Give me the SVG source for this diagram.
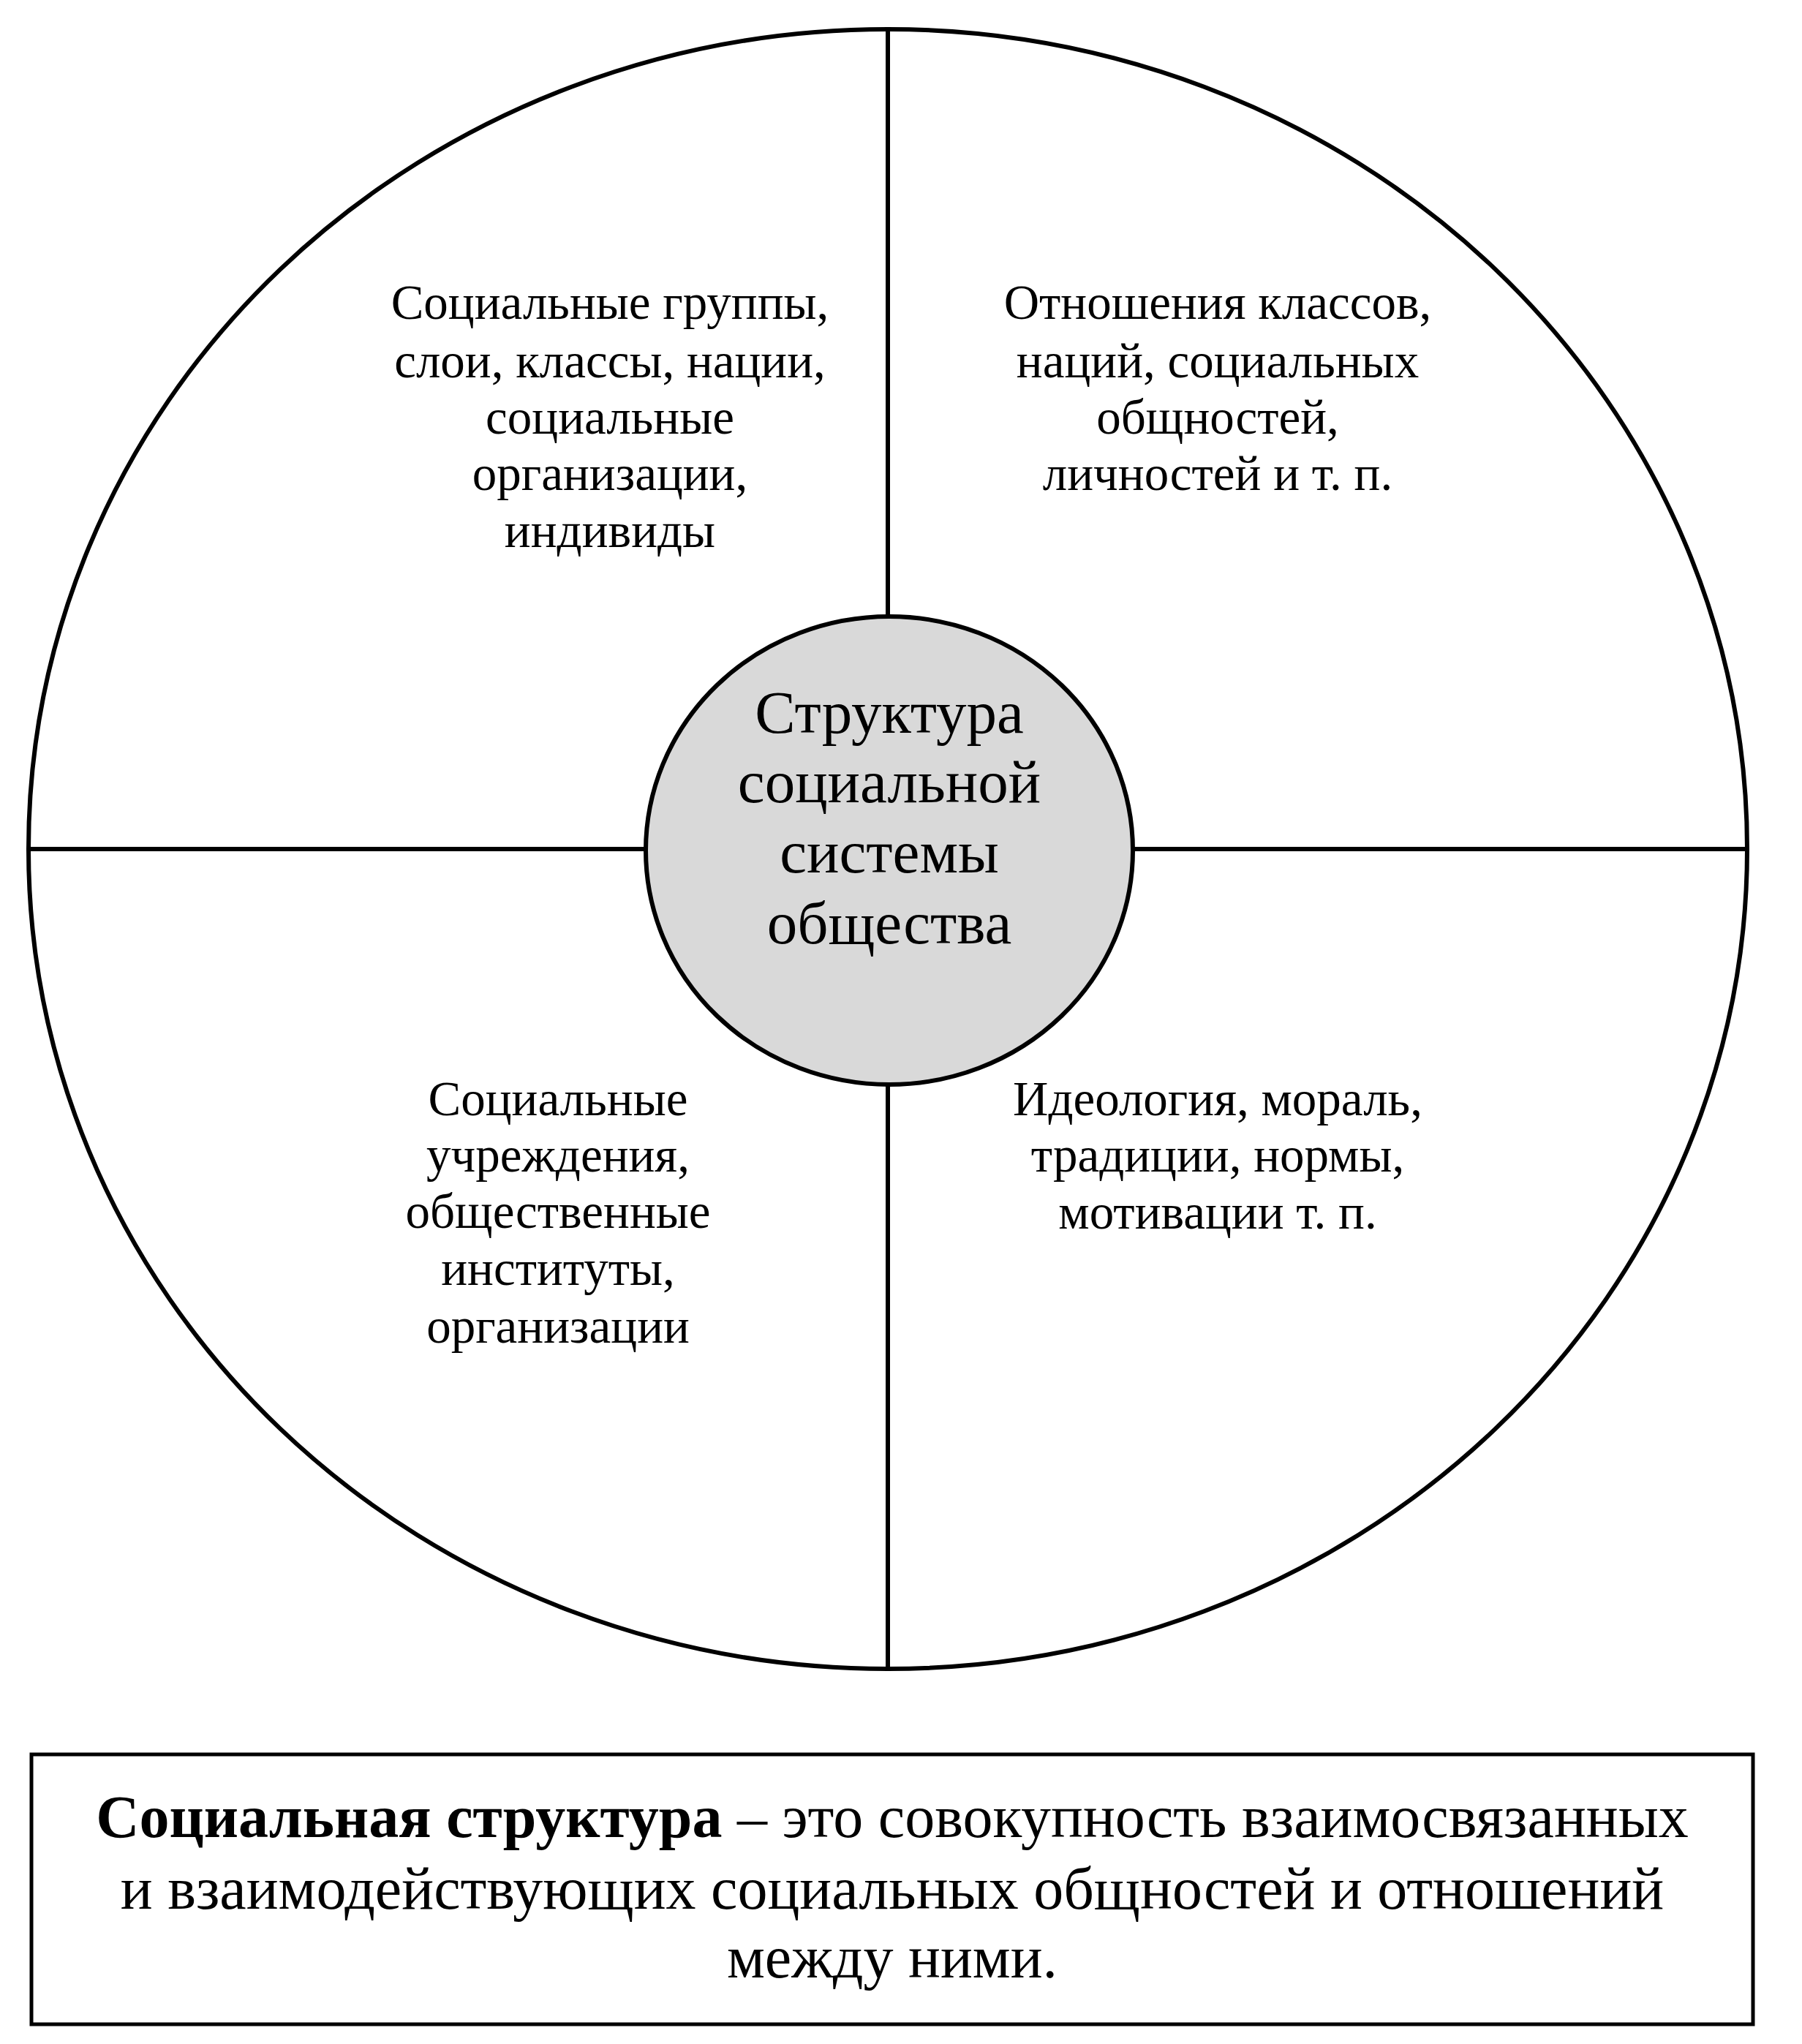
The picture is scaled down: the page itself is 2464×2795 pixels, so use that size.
<svg xmlns="http://www.w3.org/2000/svg" width="2464" height="2795" viewBox="0 0 2464 2795">
<style>
.ln{stroke:#000;stroke-width:6;fill:none}
.t{font-family:"Liberation Serif",serif;font-size:67px;text-anchor:middle;fill:#000}
.c{font-family:"Liberation Serif",serif;font-size:83px;text-anchor:middle;fill:#000}
.b{font-family:"Liberation Serif",serif;font-size:82px;text-anchor:middle;fill:#000}
</style>
<rect width="2464" height="2795" fill="#fff"/>
<g id="outer"><ellipse class="ln" cx="1214" cy="1161" rx="1175" ry="1121"/></g>
<g id="connectors">
<line class="ln" x1="1214" y1="40" x2="1214" y2="843"/>
<line class="ln" x1="1214" y1="1483" x2="1214" y2="2282"/>
<line class="ln" x1="39" y1="1161" x2="883" y2="1161"/>
<line class="ln" x1="1549" y1="1161" x2="2389" y2="1161"/>
</g>
<g id="center">
<ellipse cx="1216" cy="1163" rx="333" ry="320" fill="#d9d9d9" stroke="#000" stroke-width="6"/>
<text class="c" x="1216" y="1002">Структура</text>
<text class="c" x="1216" y="1097">социальной</text>
<text class="c" x="1216" y="1193">системы</text>
<text class="c" x="1216" y="1290">общества</text>
</g>
<g id="tl"><text class="t" x="834" y="436">Социальные группы,</text><text class="t" x="834" y="516">слои, классы, нации,</text><text class="t" x="834" y="593">социальные</text><text class="t" x="834" y="670">организации,</text><text class="t" x="834" y="748">индивиды</text></g>
<g id="tr"><text class="t" x="1665" y="436">Отношения классов,</text><text class="t" x="1665" y="516">наций, социальных</text><text class="t" x="1665" y="593">общностей,</text><text class="t" x="1665" y="670">личностей и т. п.</text></g>
<g id="bl"><text class="t" x="763" y="1525">Социальные</text><text class="t" x="763" y="1602">учреждения,</text><text class="t" x="763" y="1679">общественные</text><text class="t" x="763" y="1757">институты,</text><text class="t" x="763" y="1836">организации</text></g>
<g id="br"><text class="t" x="1665" y="1525">Идеология, мораль,</text><text class="t" x="1665" y="1602">традиции, нормы,</text><text class="t" x="1665" y="1680">мотивации  т. п.</text></g>
<g id="def">
<rect x="43" y="2399" width="2354" height="369" fill="none" stroke="#000" stroke-width="5"/>
<text class="b" x="1220" y="2512"><tspan font-weight="bold">Социальная структура</tspan> – это совокупность взаимосвязанных</text>
<text class="b" x="1220" y="2610">и взаимодействующих социальных общностей и отношений</text>
<text class="b" x="1220" y="2704">между ними.</text>
</g>
</svg>
